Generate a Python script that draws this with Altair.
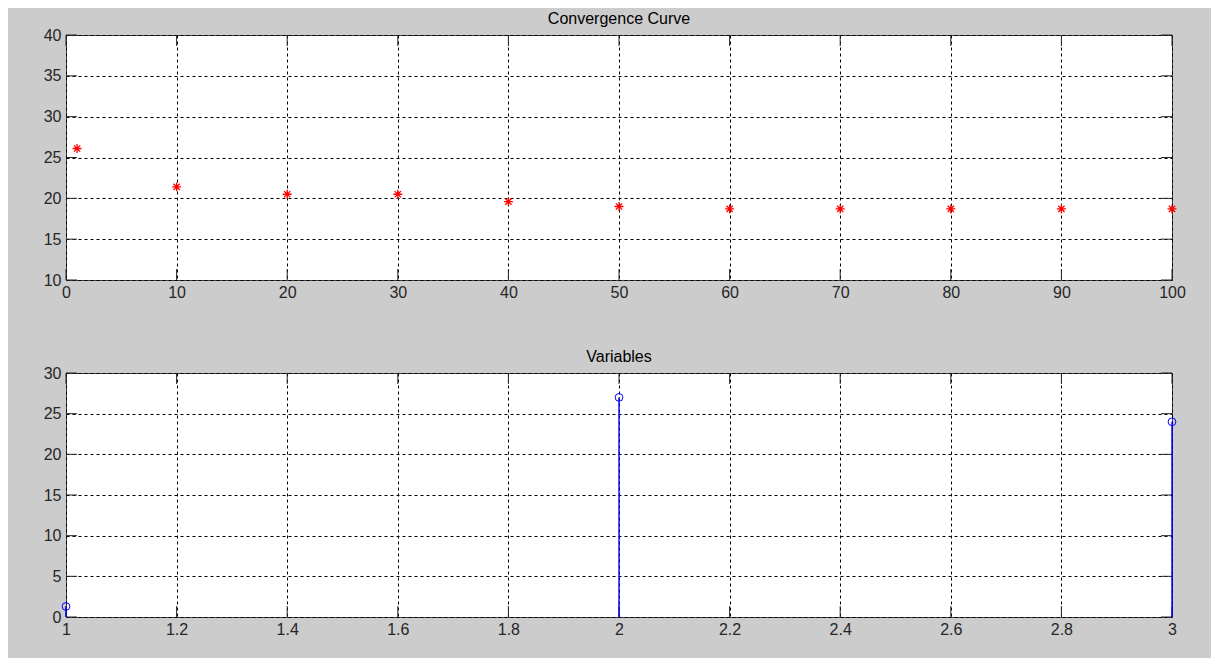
import altair as alt
import pandas as pd

# Convergence curve data
conv_iter = [1, 10, 20, 30, 40, 50, 60, 70, 80, 90, 100]
conv_value = [26.1, 21.4, 20.5, 20.5, 19.6, 19.0, 18.7, 18.7, 18.7, 18.7, 18.7]

# Variables data
var_index = [1, 2, 3]
var_value = [1.3, 27.0, 24.0]

top_xticks = [0, 10, 20, 30, 40, 50, 60, 70, 80, 90, 100]
top_yticks = [10, 15, 20, 25, 30, 35, 40]
bot_xticks = [1.0, 1.2, 1.4, 1.6, 1.8, 2.0, 2.2, 2.4, 2.6, 2.8, 3.0]
bot_yticks = [0, 5, 10, 15, 20, 25, 30]

W = 1106
H = 245
TL = 11
AX = "#262626"
FONT = "Liberation Sans"

ASTERISK = "M-1,0L1,0M0,-1L0,1M-0.7,-0.7L0.7,0.7M-0.7,0.7L0.7,-0.7"


def inward_ticks(xt, yt, xdom, ydom, h):
    dx = pd.DataFrame({"t": xt})
    dy = pd.DataFrame({"t": yt})
    xs = alt.Scale(domain=xdom, nice=False, zero=False)
    ys = alt.Scale(domain=ydom, nice=False, zero=False)
    layers = []
    for (a, b) in [(0, TL), (W - TL, W)]:
        layers.append(alt.Chart(dy).mark_rule(color=AX, strokeWidth=1).encode(
            y=alt.Y("t:Q", scale=ys), x=alt.value(a), x2=alt.value(b)))
    for (a, b) in [(h - TL, h), (0, TL)]:
        layers.append(alt.Chart(dx).mark_rule(color=AX, strokeWidth=1).encode(
            x=alt.X("t:Q", scale=xs), y=alt.value(a), y2=alt.value(b)))
    return layers


def axis_x(vals, fmt):
    return alt.Axis(values=vals, format=fmt, title=None, ticks=False, domain=False,
                    grid=True, gridColor="black", gridDash=[3, 3], gridOpacity=1,
                    labelFontSize=16, labelColor=AX, labelPadding=4, labelFont=FONT,
                    labelFlush=False, labelOverlap=False)


def axis_y(vals):
    return alt.Axis(values=vals, title=None, ticks=False, domain=False,
                    grid=True, gridColor="black", gridDash=[3, 3], gridOpacity=1,
                    labelFontSize=16, labelColor=AX, labelPadding=5, labelFont=FONT,
                    labelOverlap=False)


conv_df = pd.DataFrame({"iter": conv_iter, "value": conv_value})
top_pts = alt.Chart(conv_df).mark_point(
    shape=ASTERISK, size=80, color="#ff0000", filled=False, strokeWidth=1.3, opacity=1
).encode(
    x=alt.X("iter:Q", scale=alt.Scale(domain=[0, 100], nice=False, zero=False),
            axis=axis_x(top_xticks, "d")),
    y=alt.Y("value:Q", scale=alt.Scale(domain=[10, 40], nice=False, zero=False),
            axis=axis_y(top_yticks)),
)
top = alt.layer(top_pts, *inward_ticks(top_xticks, top_yticks, [0, 100], [10, 40], H)).properties(
    width=W, height=H,
    title=alt.TitleParams("Convergence Curve", fontSize=16, fontWeight="normal",
                          font=FONT, color="black", offset=0),
)

HB = 244
var_df = pd.DataFrame({"idx": var_index, "value": var_value})
bxs = alt.Scale(domain=[1, 3], nice=False, zero=False)
bys = alt.Scale(domain=[0, 30], nice=False, zero=False)
stems = alt.Chart(var_df).mark_rule(color="#0000ff", strokeWidth=1.4).encode(
    x=alt.X("idx:Q", scale=bxs, axis=axis_x(bot_xticks, ".1~f")),
    y=alt.Y("value:Q", scale=bys, axis=axis_y(bot_yticks)),
    y2=alt.datum(0),
)
circles = alt.Chart(var_df).mark_point(
    shape="circle", size=60, color="#0000ff", filled=False, strokeWidth=1, opacity=1
).encode(
    x=alt.X("idx:Q", scale=bxs),
    y=alt.Y("value:Q", scale=bys),
)
bottom = alt.layer(*inward_ticks(bot_xticks, bot_yticks, [1, 3], [0, 30], HB), stems, circles).properties(
    width=W, height=HB,
    title=alt.TitleParams("Variables", fontSize=16, fontWeight="normal",
                          font=FONT, color="black", offset=0),
)

chart = alt.vconcat(top, bottom, spacing=47).properties(
    background="#cccccc",
    padding={"left": 34, "top": 2, "right": 25, "bottom": 20},
).configure_view(
    stroke="#404040", strokeWidth=1, fill="white"
).configure_concat(spacing=47)

chart.save("out.html", embed_options={"renderer": "svg", "actions": False})
